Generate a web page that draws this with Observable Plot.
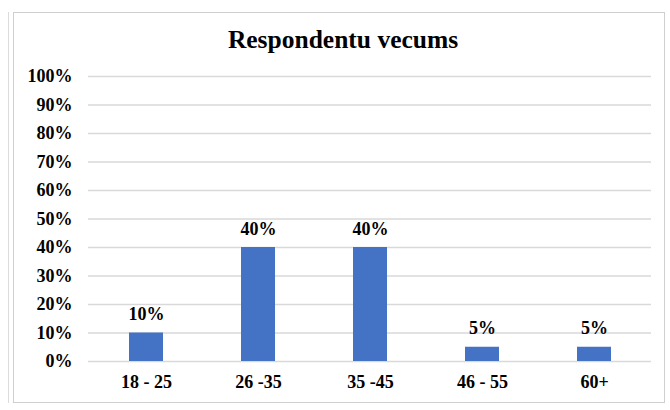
<!DOCTYPE html>
<html>
<head>
<meta charset="utf-8">
<script src="https://cdn.jsdelivr.net/npm/d3@7"></script>
<script src="https://cdn.jsdelivr.net/npm/@observablehq/plot@0.6"></script>
<style>
  html, body { margin: 0; padding: 0; background: #fff; }
  #wrap { position: relative; width: 670px; height: 410px; overflow: hidden; }
  #frame { position: absolute; left: 13px; top: 12px; width: 652px; height: 391px; border: 1px solid #cfcfcf; box-sizing: border-box; }
  #frame2 { position: absolute; left: 8px; top: 12px; width: 1px; height: 391px; background: #dcdcdc; }
  #title { position: absolute; left: 8px; top: 26px; width: 670px; text-align: center;
    font-family: "Liberation Serif", "Times New Roman", serif; font-weight: bold; font-size: 25.5px; line-height: 28px; color: #000; }
  #chart { position: absolute; left: 0; top: 62px; }
</style>
</head>
<body>
<div id="wrap">
  <div id="frame2"></div>
  <div id="frame"></div>
  <div id="title">Respondentu vecums</div>
  <div id="chart"></div>
</div>
<script>
const categories = ["18 - 25", "26 -35", "35 -45", "46 - 55", "60+"];
const shares = [0.10, 0.40, 0.40, 0.05, 0.05];
const labels = ["10%", "40%", "40%", "5%", "5%"];
const yTicks = [0, 0.1, 0.2, 0.3, 0.4, 0.5, 0.6, 0.7, 0.8, 0.9, 1.0];

const data = categories.map((c, i) => ({cat: c, v: shares[i], label: labels[i]}));
const font = "'Liberation Serif', 'Times New Roman', serif";

const plot = Plot.plot({
  width: 670,
  height: 348,
  marginTop: 14,
  marginBottom: 49,
  marginLeft: 88,
  marginRight: 19,
  style: {fontFamily: font, fontSize: "18px", fontWeight: "bold", color: "#000", background: "transparent"},
  x: {domain: categories, paddingInner: 0.7, paddingOuter: 0.35, label: null},
  y: {domain: [0, 1], label: null},
  marks: [
    Plot.ruleY(yTicks, {stroke: "#d9d9d9", strokeWidth: 1.5}),
    Plot.barY(data, {x: "cat", y: "v", fill: "#4472C4"}),
    Plot.text(data, {x: "cat", y: "v", text: "label", dy: -13, lineAnchor: "bottom", fontSize: 18, fontWeight: "bold", fill: "#000"}),
    Plot.axisY({ticks: yTicks, tickFormat: d => Math.round(d * 100) + "%", tickSize: 0, tickPadding: 16, fontSize: 18, fontWeight: "bold"}),
    Plot.axisX({tickSize: 0, tickPadding: 14, fontSize: 18, fontWeight: "bold"})
  ]
});
document.getElementById("chart").appendChild(plot);
</script>
</body>
</html>
